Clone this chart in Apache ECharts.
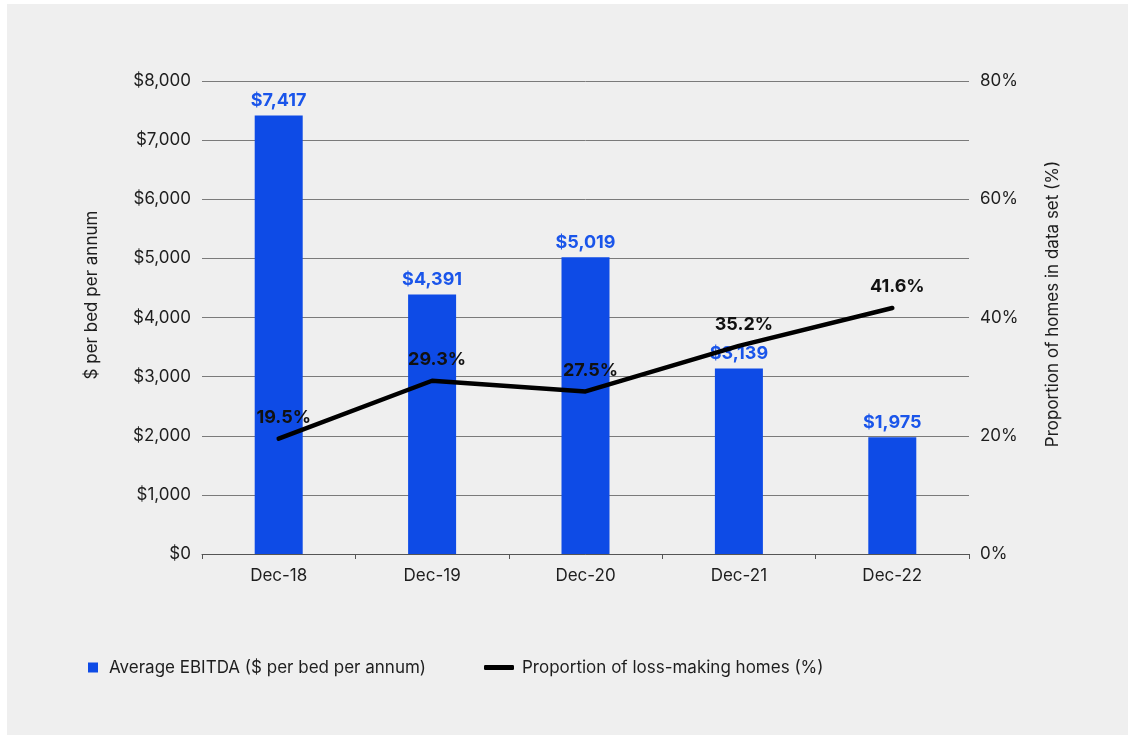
<!DOCTYPE html>
<html>
<head>
<meta charset="utf-8">
<script src="https://cdn.jsdelivr.net/npm/echarts@6/dist/echarts.min.js"></script>
<style>
  html, body { margin: 0; padding: 0; background: #ffffff; }
  #panel { position: absolute; left: 7px; top: 4px; width: 1121px; height: 731px; background: #efefef; }
  #chart { position: absolute; left: -7px; top: -4px; width: 1134px; height: 735px; }
</style>
</head>
<body>
<div id="panel"><div id="chart"></div></div>
<script>
// Categories and series values
const categories = ['Dec-18', 'Dec-19', 'Dec-20', 'Dec-21', 'Dec-22'];
const ebitdaPerBed = [7417, 4391, 5019, 3139, 1975];
const lossMakingShare = [19.5, 29.3, 27.5, 35.2, 41.6];
const barName = 'Average EBITDA ($ per bed per annum)';
const lineName = 'Proportion of loss-making homes (%)';
const leftAxisTitle = '$ per bed per annum';
const rightAxisTitle = 'Proportion of homes in data set (%)';

const FONT = 'Inter, "Liberation Sans", sans-serif';
const BLUE = '#0e4be6';
const TEXT = '#1e1e1e';

const chart = echarts.init(document.getElementById('chart'), null, { renderer: 'canvas' });

chart.setOption({
  backgroundColor: 'transparent',
  animation: false,
  textStyle: { fontFamily: FONT },
  grid: { left: 202, right: 165, top: 81, height: 473, containLabel: false },
  // rotated axis titles
  graphic: [
    {
      type: 'text', x: 92, y: 295, rotation: Math.PI / 2,
      style: { text: leftAxisTitle, fontFamily: FONT, fontSize: 17, fill: TEXT,
               align: 'center', verticalAlign: 'middle' }
    },
    {
      type: 'text', x: 1053, y: 304, rotation: Math.PI / 2,
      style: { text: rightAxisTitle, fontFamily: FONT, fontSize: 17, fill: TEXT,
               align: 'center', verticalAlign: 'middle' }
    }
  ],
  legend: [
    {
      data: [{ name: barName, icon: 'rect' }],
      left: 83, top: 654,
      itemWidth: 10, itemHeight: 10,
      textStyle: { fontFamily: FONT, fontSize: 17, color: TEXT, padding: [0, 0, 0, 6] }
    },
    {
      data: [{ name: lineName, icon: 'roundRect' }],
      left: 479, top: 654,
      itemWidth: 30, itemHeight: 5,
      itemStyle: { color: '#000' },
      textStyle: { fontFamily: FONT, fontSize: 17, color: TEXT, padding: [0, 0, 0, 3] }
    }
  ],
  xAxis: {
    type: 'category',
    data: categories,
    axisLine: { lineStyle: { color: '#555', width: 1 } },
    axisTick: { show: true, length: 5, lineStyle: { color: '#555' } },
    axisLabel: { fontFamily: FONT, fontSize: 17, color: TEXT, margin: 13 }
  },
  yAxis: [
    {
      type: 'value',
      min: 0, max: 8000, interval: 1000,
      axisLine: { show: false },
      axisTick: { show: false },
      splitLine: { lineStyle: { color: '#7a7a7a', width: 1 } },
      axisLabel: {
        fontFamily: FONT, fontSize: 17, color: TEXT, margin: 11,
        formatter: v => '$' + v.toLocaleString('en-US')
      }
    },
    {
      type: 'value',
      min: 0, max: 80, interval: 20,
      axisLine: { show: false },
      axisTick: { show: false },
      splitLine: { show: false },
      axisLabel: {
        fontFamily: FONT, fontSize: 17, color: TEXT, margin: 11,
        formatter: v => v + '%'
      }
    }
  ],
  series: [
    {
      name: barName,
      type: 'bar',
      data: ebitdaPerBed,
      barWidth: 48,
      itemStyle: { color: BLUE },
      label: {
        show: true, position: 'top', distance: 6,
        fontFamily: FONT, fontSize: 18, fontWeight: 'bold', color: '#1a55ea',
        formatter: p => '$' + p.value.toLocaleString('en-US')
      },
      z: 2
    },
    {
      name: lineName,
      type: 'line',
      yAxisIndex: 1,
      data: lossMakingShare,
      showSymbol: true,
      symbol: 'circle',
      symbolSize: 0.1,
      lineStyle: { color: '#000', width: 4.5, cap: 'round', join: 'round' },
      itemStyle: { color: '#000' },
      label: {
        show: true, position: 'top', distance: 12, offset: [5, 0],
        fontFamily: FONT, fontSize: 18, fontWeight: 'bold', color: '#111',
        formatter: p => p.value.toFixed(1) + '%'
      },
      z: 3
    }
  ]
});
</script>
</body>
</html>
